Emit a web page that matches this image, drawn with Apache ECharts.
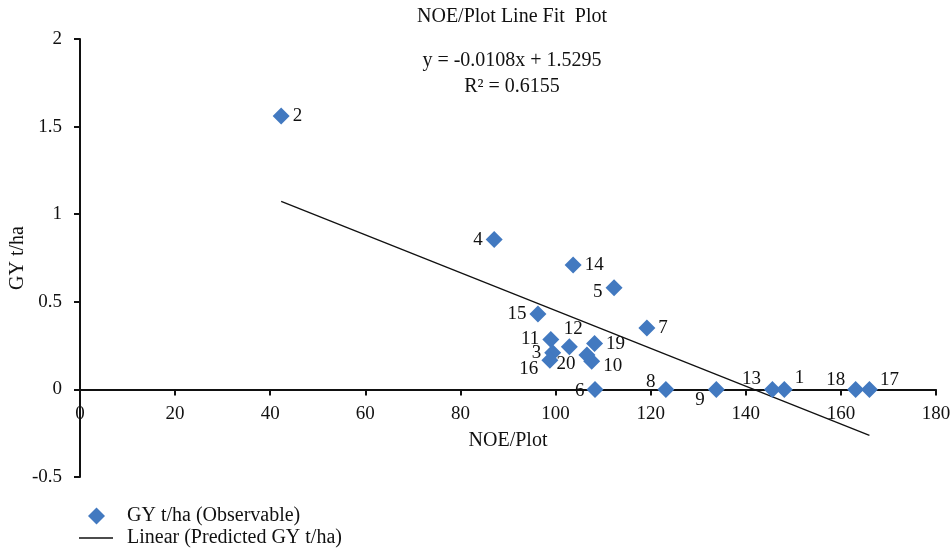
<!DOCTYPE html>
<html>
<head>
<meta charset="utf-8">
<script src="https://cdn.jsdelivr.net/npm/echarts@6/dist/echarts.min.js"></script>
<style>
  html, body { margin: 0; padding: 0; background: #fff; }
  #chart { width: 950px; height: 556px; }
</style>
</head>
<body>
<div id="chart"></div>
<script>
const plotIds = ['2', '4', '14', '5', '15', '7', '11', '12', '19', '3', '16', '20', '10', '6', '8', '9', '13', '1', '18', '17'];
const noePlot = [42.3, 87.1, 103.7, 112.3, 96.3, 119.2, 99.0, 102.9, 108.2, 99.4, 98.8, 106.6, 107.6, 108.3, 123.2, 133.8, 145.6, 148.1, 163.1, 166.0];
const gyObs = [1.56, 0.855, 0.71, 0.58, 0.43, 0.35, 0.285, 0.243, 0.262, 0.209, 0.167, 0.197, 0.161, 0, 0, 0, 0, 0, 0, 0];
// fitted line end points
const fitX = [42.3, 166.0];
const fitY = [1.073, -0.263];

const FONT = "'Liberation Serif', 'DejaVu Serif', serif";
const BLUE = '#4279C0';
const INK = '#111';

// where each point's number sits: [position, dx, dy]
const labelPlace = {
  '2': ['right', 0, 0], '4': ['left', 0, 0], '14': ['right', 0, 0], '5': ['left', 0, 4],
  '15': ['left', 0, 0], '7': ['right', 0, 0], '11': ['left', 0, 0], '12': ['top', 4, 3],
  '19': ['right', 0, 1], '3': ['left', 0, 0], '16': ['left', 0, 9], '20': ['left', 0, 9],
  '10': ['right', 0, 5], '6': ['left', 1, 2], '8': ['left', 1, -7], '9': ['left', 0, 11],
  '13': ['left', 0, -10], '1': ['right', -1, -11], '18': ['left', 1, -9], '17': ['right', -1, -9]
};

const points = plotIds.map((id, i) => {
  const p = labelPlace[id];
  return {
    name: id,
    value: [noePlot[i], gyObs[i]],
    label: { position: p[0], offset: [p[1], p[2]] }
  };
});

const titleText = { fontFamily: FONT, fontSize: 20, fontWeight: 'normal', color: INK };

const chart = echarts.init(document.getElementById('chart'), null, { renderer: 'canvas' });
chart.setOption({
  animation: false,
  textStyle: { fontFamily: FONT, color: INK },
  title: [
    { text: 'NOE/Plot Line Fit  Plot', left: 507, top: 2, textAlign: 'center', textStyle: titleText },
    { text: 'y = -0.0108x + 1.5295', left: 507, top: 46, textAlign: 'center', textStyle: titleText },
    { text: 'R² = 0.6155', left: 507, top: 72, textAlign: 'center', textStyle: titleText }
  ],
  grid: { left: 80, right: 14, top: 39, bottom: 79, containLabel: false, outerBoundsMode: 'none' },
  xAxis: {
    type: 'value', min: 0, max: 180, interval: 20,
    name: 'NOE/Plot', nameLocation: 'middle', nameGap: -46, nameMoveOverlap: false,
    nameTextStyle: { fontFamily: FONT, fontSize: 20, color: INK },
    axisLine: { onZero: true, lineStyle: { color: INK, width: 2 } },
    axisTick: { show: true, length: 6, lineStyle: { color: INK, width: 2 } },
    axisLabel: { fontFamily: FONT, fontSize: 19, color: INK, margin: -72 },
    splitLine: { show: false }
  },
  yAxis: {
    type: 'value', min: -0.5, max: 2, interval: 0.5,
    name: 'GY t/ha', nameLocation: 'middle', nameGap: 52, nameMoveOverlap: false,
    nameTextStyle: { fontFamily: FONT, fontSize: 20, color: INK },
    axisLine: { show: true, onZero: false, lineStyle: { color: INK, width: 2 } },
    axisTick: { show: true, length: 6, lineStyle: { color: INK, width: 2 } },
    axisLabel: { fontFamily: FONT, fontSize: 19, color: INK, margin: 18 },
    splitLine: { show: false }
  },
  legend: [
    {
      data: [{ name: 'GY t/ha (Observable)', icon: 'diamond' }],
      orient: 'vertical', left: 83, top: 501, itemWidth: 17, itemHeight: 17,
      textStyle: { fontFamily: FONT, fontSize: 20, color: INK, padding: [0, 0, 0, 17] }
    },
    {
      data: [{ name: 'Linear (Predicted GY t/ha)', icon: 'rect', itemStyle: { color: INK } }],
      orient: 'vertical', left: 74, top: 523, itemWidth: 34, itemHeight: 1.5,
      textStyle: { fontFamily: FONT, fontSize: 20, color: INK, padding: [0, 0, 0, 9] }
    }
  ],
  series: [
    {
      name: 'Linear (Predicted GY t/ha)',
      type: 'line',
      data: fitX.map((x, i) => [x, fitY[i]]),
      showSymbol: false,
      symbol: 'none',
      lineStyle: { color: INK, width: 1.3 },
      itemStyle: { color: INK },
      z: 1
    },
    {
      name: 'GY t/ha (Observable)',
      type: 'scatter',
      symbol: 'diamond',
      symbolSize: 17,
      itemStyle: { color: BLUE, opacity: 1 },
      label: {
        show: true, formatter: '{b}', distance: 3,
        fontFamily: FONT, fontSize: 19, color: INK
      },
      data: points,
      z: 3
    }
  ]
});
</script>
</body>
</html>
